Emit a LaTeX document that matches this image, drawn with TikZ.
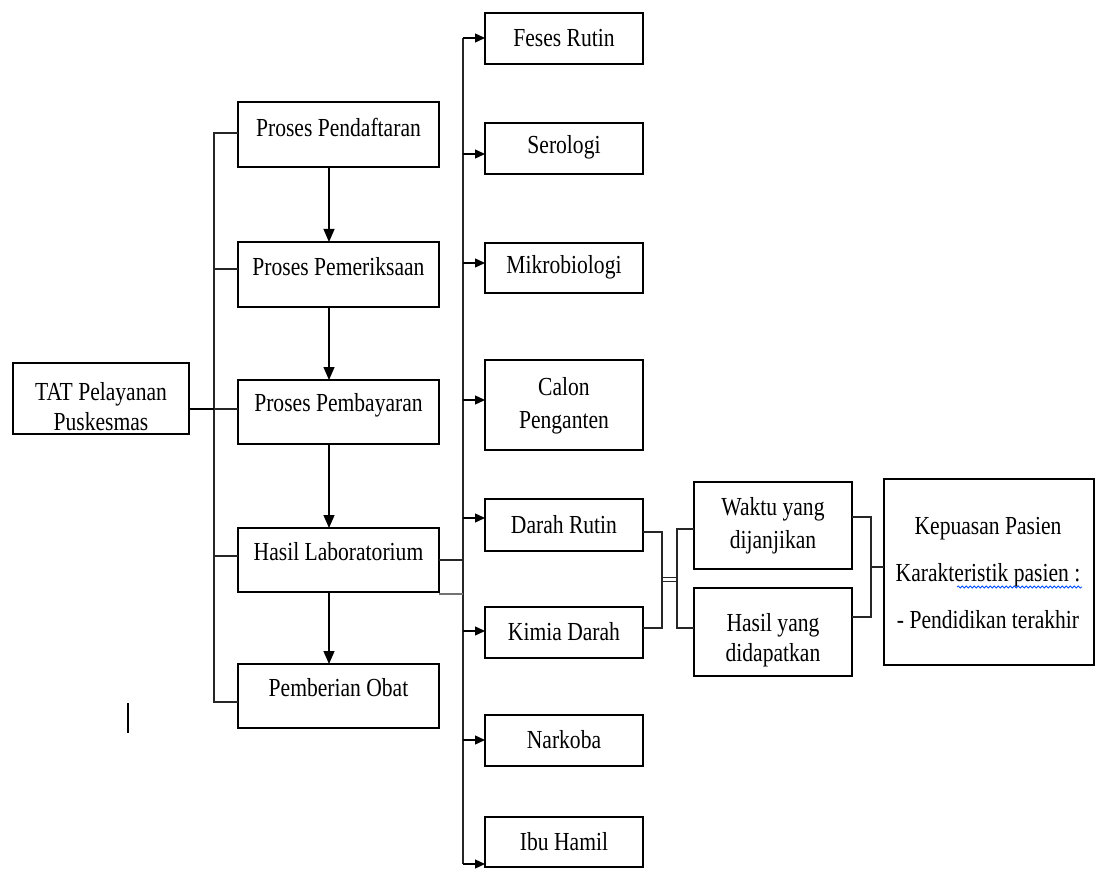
\documentclass[tikz,border=0pt]{standalone}
\usepackage{fontspec}
\setmainfont{Liberation Serif}[FakeStretch=0.83]
\usetikzlibrary{arrows.meta,decorations.pathmorphing}
\newcommand\mybox[5]{\node[box,minimum width={#4-#2},minimum height={#5-#3}] (#1) at ({(#2+#4)/2},{(#3+#5)/2}) {};}
\begin{document}
\begin{tikzpicture}[x=1pt,y=-1pt,
  box/.style={draw,line width=1.4pt,inner sep=0pt,outer sep=0pt},
  txt/.style={font=\fontsize{26}{30}\selectfont,align=center,inner sep=0pt},
  ln/.style={line width=1.3pt,black!85},
  thk/.style={line width=2.6pt},
  arr/.style={line width=1.3pt,-{Triangle[length=13pt,width=11pt]}},
  sarr/.style={line width=1.3pt,-{Triangle[length=10pt,width=9pt]}}]
\useasboundingbox (0,0) rectangle (1095,869);
% boxes
\mybox{tat}{13}{363}{189}{434}
\mybox{pd}{238}{102}{439}{167}
\mybox{pm}{238}{242}{439}{307}
\mybox{pb}{238}{380}{439}{444}
\mybox{hl}{238}{528}{439}{592}
\mybox{po}{238}{664}{439}{728}
\mybox{fr}{485}{13}{643}{64}
\mybox{se}{485}{123}{643}{174}
\mybox{mi}{485}{243}{643}{293}
\mybox{cp}{485}{360}{643}{450}
\mybox{dr}{485}{499}{643}{551}
\mybox{kd}{485}{607}{643}{658}
\mybox{nk}{485}{715}{643}{766}
\mybox{ih}{485}{817}{643}{867}
\mybox{wy}{694}{482}{852}{569}
\mybox{hy}{694}{588}{852}{676}
\mybox{kp}{884}{479}{1094}{665}
% texts
\node[txt] (tat-t) at (101,407) {TAT Pelayanan\\Puskesmas};
\node[txt] (pd-t) at (338.5,127) {Proses Pendaftaran};
\node[txt] (pm-t) at (338.5,267) {Proses Pemeriksaan};
\node[txt] (pb-t) at (338.5,405) {Proses Pembayaran};
\node[txt] (hl-t) at (338.5,552) {Hasil Laboratorium};
\node[txt] (po-t) at (338.5,688) {Pemberian Obat};
\node[txt] (fr-t) at (564,38) {Feses Rutin};
\node[txt] (se-t) at (564,147) {Serologi};
\node[txt] (mi-t) at (564,267) {Mikrobiologi};
\node[txt] (cp-t) at (564,406) {Calon\\[3pt]Penganten};
\node[txt] (dr-t) at (564,525) {Darah Rutin};
\node[txt] (kd-t) at (564,632) {Kimia Darah};
\node[txt] (nk-t) at (564,740) {Narkoba};
\node[txt] (ih-t) at (564,842) {Ibu Hamil};
\node[txt] (wy-t) at (773,526) {Waktu yang\\[3pt]dijanjikan};
\node[txt] (hy-t) at (773,640) {Hasil yang\\didapatkan};
\node[txt,font=\fontsize{26}{47}\selectfont] (kp-t) at (988,573) {Kepuasan Pasien\\Karakteristik pasien :\\- Pendidikan terakhir};
% left tree
\coordinate (lt) at (214,133);
\coordinate (lb) at (214,702);
\draw[ln] (pd.west|-lt) -- (lt) -- (lb) -- (po.west|-lb);
\draw[ln] (pm.west|-0,269) -- (lt|-0,269);
\draw[ln] (pb.west|-0,409) -- (lt|-0,409);
\draw[ln] (hl.west|-0,556) -- (lt|-0,556);
\draw[thk] (tat.east|-0,409) -- (lt|-0,409);
% vertical arrows
\coordinate (ax) at (329,0);
\draw[arr] (pd.south-|ax) -- (pm.north-|ax);
\draw[arr] (pm.south-|ax) -- (pb.north-|ax);
\draw[arr] (pb.south-|ax) -- (hl.north-|ax);
\draw[arr] (hl.south-|ax) -- (po.north-|ax);
% middle tree
\coordinate (mt) at (463,38);
\coordinate (mb) at (463,864);
\draw[ln] (mt) -- (mb);
\draw[sarr] (mt) -- (fr.west|-mt);
\draw[sarr] (mt|-0,154) -- (se.west|-0,154);
\draw[sarr] (mt|-0,263) -- (mi.west|-0,263);
\draw[sarr] (mt|-0,400) -- (cp.west|-0,400);
\draw[sarr] (mt|-0,518) -- (dr.west|-0,518);
\draw[sarr] (mt|-0,631) -- (kd.west|-0,631);
\draw[sarr] (mt|-0,740) -- (nk.west|-0,740);
\draw[sarr] (mb) -- (ih.west|-mb);
\draw[ln] (hl.east|-0,560) -- (mt|-0,560);
\draw[ln,black!55] (hl.east|-0,594) -- (mt|-0,594);
% right part
\coordinate (j1) at (662,532);
\coordinate (j2) at (677,529);
\coordinate (j3) at (871,517);
\draw[ln] (dr.east|-j1) -- (j1) -- (j1|-0,628) -- (kd.east|-0,628);
\draw[ln] (j1|-0,577.5) -- (j2|-0,577.5);
\draw[ln] (j1|-0,581.5) -- (j2|-0,581.5);
\draw[ln] (wy.west|-j2) -- (j2) -- (j2|-0,628) -- (hy.west|-0,628);
\draw[ln] (wy.east|-j3) -- (j3) -- (j3|-0,617) -- (hy.east|-0,617);
\draw[ln] (j3|-0,567) -- (kp.west|-0,567);
% spell-check underline and cursor
\draw[blue!70!cyan,line width=0.8pt,decorate,decoration={snake,amplitude=1pt,segment length=4pt}] (957,587) -- (1082,587);
\draw[line width=1.2pt] (128,703) -- (128,733);
\end{tikzpicture}
\end{document}
